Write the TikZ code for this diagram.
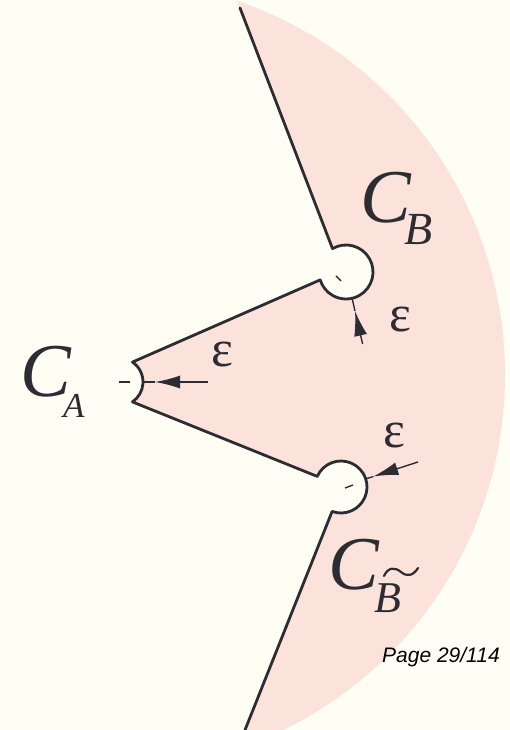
\documentclass[tikz,border=0pt]{standalone}
\usepackage{fontspec}
\setmainfont{Liberation Serif}
\newfontfamily\pagefont{Liberation Sans}
\usetikzlibrary{arrows.meta,calc}
\definecolor{bgcol}{HTML}{FFFEF4}
\definecolor{pinkcol}{HTML}{FBE3DC}
\definecolor{inkcol}{HTML}{2E2C33}
\begin{document}
\begin{tikzpicture}[x=1pt,y=1pt,
  boundary/.style={draw=inkcol,line width=2.8pt,line join=round,line cap=round},
  thinline/.style={draw=inkcol,line width=1.4pt},
  epsarrow/.style={draw=inkcol,line width=1.4pt,-{Latex[length=25pt,width=13pt]}},
  lbl/.style={inner sep=0pt,text=inkcol}]
\fill[bgcol] (0,0) rectangle (510,730);
\useasboundingbox (0,0) rectangle (510,730);
% key points
\coordinate (O) at (110,355);
\coordinate (A) at (119,348);
\coordinate (B) at (346,458);
\coordinate (Bt) at (341,243);
\coordinate (T) at (240,722);
\coordinate (E) at (245,0);
\coordinate (Bin) at ($(B)+(120:27)$);
\coordinate (Ain) at ($(A)+(56:24)$);
\coordinate (Btin) at ($(Bt)+(156:26)$);
% pink region
\begin{scope}
\clip (0,0) rectangle (510,730);
\clip (O) circle (395);
\fill[pinkcol] ($(T)+(-15,39)$) -- (T) -- (Bin)
  arc[start angle=120,end angle=-163,radius=27] -- (Ain)
  arc[start angle=56,end angle=-56,radius=24] -- (Btin)
  arc[start angle=156,end angle=-110,radius=26] -- (E)
  -- ($(E)+(-10,-25)$) -- (600,-30) -- (600,760) -- cycle;
\end{scope}
% boundary curve
\draw[boundary] (T) -- (Bin)
  arc[start angle=120,end angle=-163,radius=27] -- (Ain)
  arc[start angle=56,end angle=-56,radius=24] -- (Btin)
  arc[start angle=156,end angle=-110,radius=26] -- (E);
% centre marks
\draw[thinline] (A) -- ($(A)+(11,0)$);
\draw[thinline] (336,454) -- (341,449);
\draw[thinline] (345,242) -- (353,245);
% epsilon arrows
\coordinate (Aend) at ($(A)+(0:24)$);
\coordinate (Atip) at ($(A)+(0:36)$);
\coordinate (Atail) at ($(A)+(0:89)$);
\coordinate (Bend) at ($(B)+(-77:27)$);
\coordinate (Btip) at ($(B)+(-77:40)$);
\coordinate (Btail) at ($(B)+(-77:74)$);
\coordinate (Btend) at ($(Bt)+(18:26)$);
\coordinate (Bttip) at ($(Bt)+(18:34)$);
\coordinate (Bttail) at ($(Bt)+(18:81)$);
\draw[epsarrow] (Atail) -- (Atip);
\draw[thinline] (Atip) -- (Aend);
\draw[epsarrow] (Btail) -- (Btip);
\draw[thinline] (Btip) -- (Bend);
\draw[epsarrow] (Bttail) -- (Bttip);
\draw[thinline] (Bttip) -- (Btend);
% epsilon labels
\node[lbl,font=\fontsize{52}{52}\selectfont] (epsA) at (222,375) {ε};
\node[lbl,font=\fontsize{52}{52}\selectfont] (epsB) at (400,410) {ε};
\node[lbl,font=\fontsize{52}{52}\selectfont] (epsBt) at (394,294) {ε};
% C labels
\node[lbl,anchor=base west,font=\fontsize{76}{76}\selectfont\itshape] (CA) at (20,333)
  {C\kern-7.7pt\raisebox{-21pt}{\fontsize{35}{35}\selectfont A}};
\node[lbl,anchor=base west,font=\fontsize{76}{76}\selectfont\itshape] (CB) at (360,507)
  {C\kern-6.7pt\raisebox{-22pt}{\fontsize{46}{46}\selectfont B}};
\node[lbl,anchor=base west,font=\fontsize{76}{76}\selectfont\itshape] (CBt) at (328,140)
  {C\kern-4.7pt\raisebox{-23pt}{\fontsize{44}{44}\selectfont B}};
\draw[inkcol,line width=2.2pt,line cap=round] (384,154) .. controls (388,163) and (395,163) .. (401,158) .. controls (407,153) and (413,154) .. (418,162);
% page number
\node[lbl,anchor=base west,text=black,font=\pagefont\itshape\fontsize{21}{21}\selectfont] (pg) at (382,67) {Page 29/114};
\end{tikzpicture}
\end{document}
